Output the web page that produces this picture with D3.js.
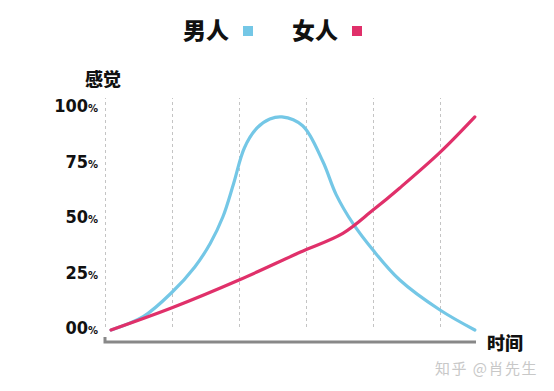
<html>
<head>
<meta charset="utf-8">
<style>
body{margin:0;background:#fff;}
</style>
</head>
<body>
<svg id="graph" width="554" height="391"></svg>
<script src="https://d3js.org/d3.v7.min.js"></script>
<script>
var seriesNames = ['男人','女人'];
var seriesColors = ['#74c7e6','#e0306a'];
// 男人
var menT = [0.09,0.57,1.0,1.34,1.57,1.76,1.92,2.08,2.27,2.46,2.64,2.95,3.25,3.45,3.7,4.0,4.4,5.0,5.52];
var menV = [0,6,17,28.4,39,51,66,82,91,95,96,92,76,61,48,36,22.5,9,0];
// 女人
var womenT = [0.09,1.0,2.0,2.91,3.55,4.0,4.4,5.0,5.52];
var womenV = [0,10,22.5,35,43.5,54,64,80,96];
var yTicks = [0,25,50,75,100];
var yLabels = ['00','25','50','75','100'];
var gridT = [0,1,2,3,4,5];

var svg = d3.select('#graph');
var x = d3.scaleLinear().domain([0,5.5]).range([105,473.5]);
var y = d3.scaleLinear().domain([0,100]).range([330,108]);

// dashed vertical grid
var grid = svg.append('g')
	.attr('transform','translate(0,327)')
	.call(d3.axisBottom(x).tickValues(gridT).tickSize(-229).tickFormat(''));
grid.select('.domain').remove();
grid.selectAll('line')
	.attr('stroke','#c4c4c4')
	.attr('stroke-width',1)
	.attr('stroke-dasharray','3,3');

// y labels
var yAxis = svg.append('g')
	.attr('transform','translate(98,0)')
	.call(d3.axisLeft(y).tickValues(yTicks).tickSize(0).tickPadding(0).tickFormat(''));
yAxis.select('.domain').remove();
yAxis.selectAll('.tick text').each(function(d,i){
	var t = d3.select(this)
		.attr('fill','#111')
		.attr('text-anchor','end')
		.attr('dy','0.35em');
	t.append('tspan')
		.attr('font-family','"DejaVu Sans Condensed","DejaVu Sans",sans-serif')
		.attr('font-weight','bold')
		.attr('font-size',18)
		.text(yLabels[i]);
	t.append('tspan')
		.attr('font-family','"DejaVu Sans",sans-serif')
		.attr('font-weight','bold')
		.attr('font-size',10)
		.text('%');
});

// bottom axis line
svg.append('path')
	.attr('d','M'+x(0)+',337 L'+x(0)+',342 L476,342')
	.attr('fill','none')
	.attr('stroke','#888')
	.attr('stroke-width',3);

var line = d3.line()
	.x(function(d){return x(d[0]);})
	.y(function(d){return y(d[1]);})
	.curve(d3.curveCatmullRom.alpha(0.5));

var menData = menT.map(function(t,i){return [t,menV[i]];});
var womenData = womenT.map(function(t,i){return [t,womenV[i]];});

svg.append('path')
	.datum(menData)
	.attr('d',line)
	.attr('fill','none')
	.attr('stroke',seriesColors[0])
	.attr('stroke-width',3.2)
	.attr('stroke-linecap','round');
svg.append('path')
	.datum(womenData)
	.attr('d',line)
	.attr('fill','none')
	.attr('stroke',seriesColors[1])
	.attr('stroke-width',3.2)
	.attr('stroke-linecap','round');

var cjk = '"Noto Sans CJK SC",sans-serif';
// legend
var legend = svg.append('g');
var legendX = [183,292];
seriesNames.forEach(function(n,i){
	legend.append('text')
		.attr('x',legendX[i])
		.attr('y',31)
		.attr('dy','0.35em')
		.attr('font-family',cjk)
		.attr('font-weight',900)
		.attr('font-size',23)
		.attr('fill','#111')
		.text(n);
	legend.append('rect')
		.attr('x',legendX[i]+60)
		.attr('y',26)
		.attr('width',10)
		.attr('height',10)
		.attr('fill',seriesColors[i]);
});

svg.append('text')
	.attr('x',103).attr('y',80).attr('dy','0.35em')
	.attr('text-anchor','middle')
	.attr('font-family',cjk).attr('font-weight',900).attr('font-size',18)
	.attr('fill','#111')
	.text('感觉');
svg.append('text')
	.attr('x',487).attr('y',344).attr('dy','0.35em')
	.attr('font-family',cjk).attr('font-weight',900).attr('font-size',18)
	.attr('fill','#111')
	.text('时间');
svg.append('text')
	.attr('x',435).attr('y',369).attr('dy','0.35em')
	.attr('font-family',cjk).attr('font-size',15)
	.attr('letter-spacing',1.5)
	.attr('fill','#c8c8c8')
	.text('知乎 @肖先生');
</script>
</body>
</html>
